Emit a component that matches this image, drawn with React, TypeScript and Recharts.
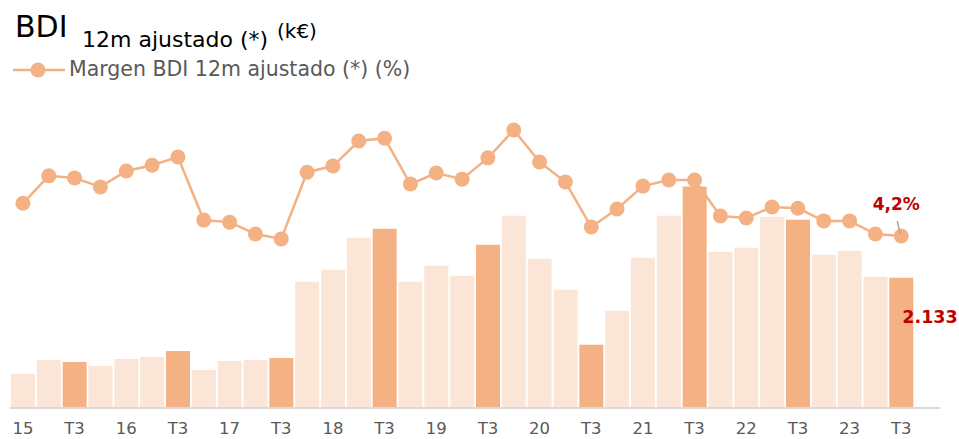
import React from "react";
import { Bar, Cell, ComposedChart, LabelList, Line, XAxis, YAxis } from "recharts";

const periods = [
  "15 T1", "15 T2", "15 T3", "15 T4",
  "16 T1", "16 T2", "16 T3", "16 T4",
  "17 T1", "17 T2", "17 T3", "17 T4",
  "18 T1", "18 T2", "18 T3", "18 T4",
  "19 T1", "19 T2", "19 T3", "19 T4",
  "20 T1", "20 T2", "20 T3", "20 T4",
  "21 T1", "21 T2", "21 T3", "21 T4",
  "22 T1", "22 T2", "22 T3", "22 T4",
  "23 T1", "23 T2", "23 T3", "23 T4",
];

const tickLabels = [
  "15", "", "T3", "",
  "16", "", "T3", "",
  "17", "", "T3", "",
  "18", "", "T3", "",
  "19", "", "T3", "",
  "20", "", "T3", "",
  "21", "", "T3", "",
  "22", "", "T3", "",
  "23", "", "T3", "",
];

// BDI 12m ajustado (k€)
const bdi = [
  558, 788, 755, 689,
  804, 837, 935, 624,
  771, 788, 820, 2067,
  2264, 2790, 2937, 2067,
  2330, 2166, 2675, 3150,
  2445, 1936, 1034, 1592,
  2461, 3150, 3626, 2560,
  2626, 3134, 3085, 2511,
  2576, 2150, 2133, null,
];

// Margen BDI 12m ajustado (%)
const margen = [
  5.0, 5.67, 5.62, 5.4,
  5.79, 5.93, 6.13, 4.59,
  4.54, 4.25, 4.13, 5.76,
  5.91, 6.52, 6.59, 5.47,
  5.74, 5.59, 6.11, 6.79,
  6.01, 5.52, 4.42, 4.86,
  5.42, 5.57, 5.57, 4.69,
  4.64, 4.91, 4.88, 4.57,
  4.57, 4.25, 4.2, null,
];

const LIGHT = "#FBE5D6";
const DARK = "#F4B183";
const RED = "#C00000";
const FONT = '"DejaVu Sans", sans-serif';

const data = periods.map((p, i) => ({ period: p, bdi: bdi[i], margen: margen[i] }));
const lastIdx = 34;

const fmtK = (v: number) => String(v).replace(/\B(?=(\d{3})+(?!\d))/g, ".");
const fmtPct = (v: number) => v.toFixed(1).replace(".", ",") + "%";

function LineLabel(props: any) {
  const { x, y, value, index } = props;
  if (index !== lastIdx) return null;
  return (
    <g>
      <line x1={x - 4} y1={y - 15} x2={x - 1} y2={y - 2} stroke="#A6A6A6" strokeWidth={1.5} />
      <text x={x - 5} y={y - 26} textAnchor="middle" fill={RED} fontWeight="bold" fontSize={17} fontFamily={FONT}>
        {fmtPct(value)}
      </text>
    </g>
  );
}

function BarLabel(props: any) {
  const { x, y, value, index } = props;
  if (index !== lastIdx) return null;
  return (
    <text x={x + 13} y={y + 45} fill={RED} fontWeight="bold" fontSize={17.5} fontFamily={FONT}>
      {fmtK(value)}
    </text>
  );
}

export default function App() {
  return (
    <div style={{ position: "absolute", left: 0, top: 0, width: 959, height: 439, background: "#fff", fontFamily: FONT }}>
      <ComposedChart
        width={959}
        height={439}
        data={data}
        margin={{ top: 60, right: 19, bottom: 0, left: 10 }}
      >
        <XAxis
          dataKey="period"
          interval={0}
          tickLine={false}
          tickSize={0}
          tickMargin={14}
          height={31}
          axisLine={{ stroke: "#D9D9D9", strokeWidth: 2 }}
          tick={{ fill: "#595959", fontSize: 16.5, fontFamily: FONT }}
          tickFormatter={(_v: string, i: number) => tickLabels[i]}
        />
        <YAxis yAxisId="k" hide domain={[0, 5700]} />
        <YAxis yAxisId="pct" hide orientation="right" domain={[0, 8.5]} />
        <Bar yAxisId="k" dataKey="bdi" barSize={24} isAnimationActive={false}>
          {data.map((d) => (
            <Cell key={d.period} fill={d.period.endsWith("T3") ? DARK : LIGHT} />
          ))}
          <LabelList dataKey="bdi" content={BarLabel} />
        </Bar>
        <Line
          yAxisId="pct"
          dataKey="margen"
          stroke={DARK}
          strokeWidth={2.5}
          dot={{ r: 7.5, fill: DARK, stroke: "none" }}
          activeDot={false}
          isAnimationActive={false}
        >
          <LabelList dataKey="margen" content={LineLabel} />
        </Line>
      </ComposedChart>
      <svg width={959} height={90} style={{ position: "absolute", left: 0, top: 0, pointerEvents: "none" }}>
        <text x={15} y={37} fontSize={30} fill="#000" fontFamily={FONT}>BDI</text>
        <text x={82} y={47} fontSize={22} fill="#000" fontFamily={FONT}>12m ajustado (*)</text>
        <text x={277} y={38} fontSize={20} fill="#000" fontFamily={FONT}>(k€)</text>
        <line x1={13} x2={65} y1={70} y2={70} stroke={DARK} strokeWidth={2.5} />
        <circle cx={38} cy={70} r={7.5} fill={DARK} />
        <text x={69} y={76} fontSize={20.5} fill="#595959" fontFamily={FONT}>Margen BDI 12m ajustado (*) (%)</text>
      </svg>
    </div>
  );
}
